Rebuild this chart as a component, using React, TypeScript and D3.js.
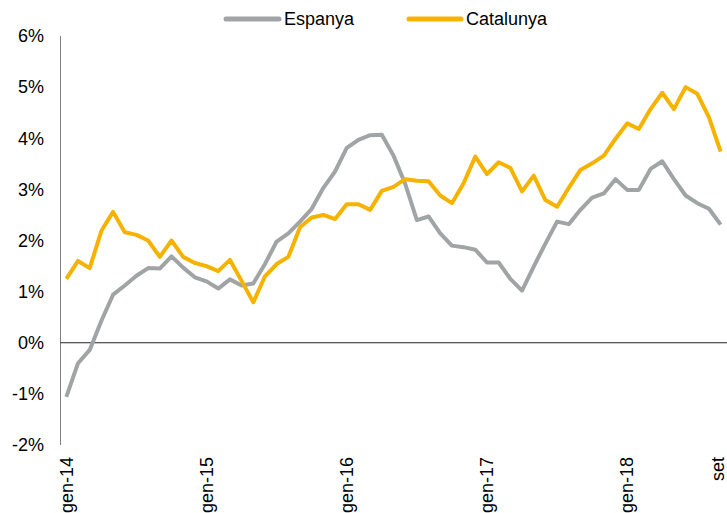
import React from "react";
import * as d3 from "d3";

const months = ["gen","feb","mar","abr","mai","jun","jul","ago","set","oct","nov","des"];
const years = ["14","15","16","17","18"];
const categories: string[] = [];
years.forEach((y) => months.forEach((m) => categories.push(`${m}-${y}`)));
const cats = categories.slice(0, 57);

const espanya = [
  -1.06, -0.40, -0.14, 0.43, 0.94, 1.12, 1.31, 1.46, 1.45, 1.69, 1.47, 1.28,
  1.20, 1.06, 1.24, 1.12, 1.16, 1.54, 1.98, 2.14, 2.37, 2.62, 3.03, 3.35,
  3.81, 3.97, 4.06, 4.07, 3.66, 3.11, 2.40, 2.47, 2.14, 1.90, 1.87, 1.82,
  1.57, 1.57, 1.25, 1.02, 1.49, 1.94, 2.37, 2.32, 2.60, 2.84, 2.92, 3.20,
  2.99, 2.99, 3.40, 3.55, 3.20, 2.88, 2.73, 2.62, 2.31,
];
const catalunya = [
  1.25, 1.60, 1.46, 2.19, 2.56, 2.16, 2.11, 2.00, 1.68, 2.00, 1.68, 1.56,
  1.50, 1.40, 1.62, 1.21, 0.79, 1.30, 1.54, 1.68, 2.26, 2.45, 2.50, 2.42,
  2.71, 2.71, 2.60, 2.97, 3.05, 3.20, 3.17, 3.16, 2.88, 2.73, 3.12, 3.64,
  3.30, 3.53, 3.42, 2.96, 3.27, 2.79, 2.66, 3.03, 3.38, 3.51, 3.66, 3.99,
  4.29, 4.18, 4.57, 4.89, 4.57, 5.00, 4.87, 4.41, 3.74,
];
const yTicks = [-2, -1, 0, 1, 2, 3, 4, 5, 6];
const xLabelIdx = [0, 12, 24, 36, 48, 56];
const xLabelText = ["gen-14", "gen-15", "gen-16", "gen-17", "gen-18", "set"];

const W = 727, H = 513;
const FONT = "'Liberation Sans', Arial, sans-serif";
const FS = 18;

export default function App() {
  const x = d3.scaleBand<string>().domain(cats).range([60.5, 726.5]);
  const y = d3.scaleLinear().domain([-2, 6]).range([445, 36]);
  const cx = (i: number) => (x(cats[i]) as number) + x.bandwidth() / 2;
  const line = d3.line<number>().x((_, i) => cx(i)).y((d) => y(d));
  const gray = "#a1a4a5";
  const gold = "#f5b300";
  return (
    <svg width={W} height={H} style={{ position: "fixed", left: 0, top: 0, background: "#fff" }} fontFamily={FONT}>
      <line x1={60.5} x2={60.5} y1={y(6)} y2={y(-2)} stroke="#808080" strokeWidth={1} />
      <line x1={60.5} x2={727} y1={y(0)} y2={y(0)} stroke="#222" strokeWidth={1} />
      {yTicks.map((t) => (
        <text key={t} x={44} y={y(t)} dy="0.35em" textAnchor="end" fontSize={FS} fill="#000">
          {`${t}%`}
        </text>
      ))}
      {xLabelIdx.map((idx, k) => (
        <text
          key={k}
          transform={`translate(${Math.min(cx(idx), W - 9)},${457}) rotate(-90)`}
          textAnchor="end"
          dy="0.35em"
          fontSize={FS}
          fill="#000"
        >
          {xLabelText[k]}
        </text>
      ))}
      <path d={line(espanya) || ""} fill="none" stroke={gray} strokeWidth={4} strokeLinejoin="round" />
      <path d={line(catalunya) || ""} fill="none" stroke={gold} strokeWidth={4} strokeLinejoin="round" />
      <g>
        <line x1={226} x2={279} y1={19} y2={19} stroke={gray} strokeWidth={5} strokeLinecap="round" />
        <text x={284} y={19} dy="0.35em" fontSize={FS} fill="#000">Espanya</text>
        <line x1={409} x2={461} y1={19} y2={19} stroke={gold} strokeWidth={5} strokeLinecap="round" />
        <text x={466} y={19} dy="0.35em" fontSize={FS} fill="#000">Catalunya</text>
      </g>
    </svg>
  );
}
